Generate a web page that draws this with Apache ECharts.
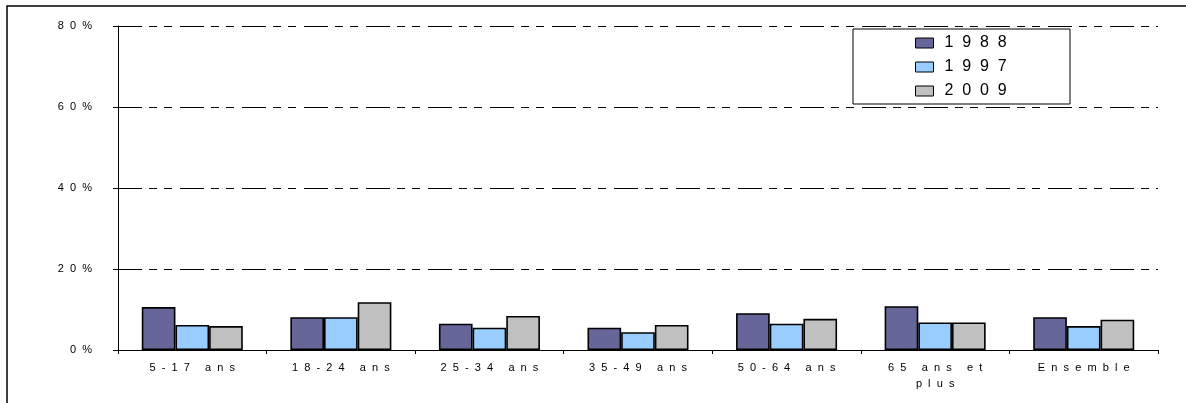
<!DOCTYPE html>
<html>
<head>
<meta charset="utf-8">
<script src="https://cdn.jsdelivr.net/npm/echarts@6/dist/echarts.min.js"></script>
<style>
  html, body { margin: 0; padding: 0; background: #fff; }
  #chart { width: 1186px; height: 403px; }
</style>
</head>
<body>
<div id="chart"></div>
<script>
// données
const categories = ["5-17 ans", "18-24 ans", "25-34 ans", "35-49 ans", "50-64 ans", "65 ans et plus", "Ensemble"];
const years = ["1988", "1997", "2009"];
const values1988 = [10.6, 8.1, 6.5, 5.5, 9.1, 10.8, 8.1];
const values1997 = [6.2, 8.1, 5.5, 4.4, 6.5, 6.8, 5.9];
const values2009 = [5.9, 11.8, 8.4, 6.2, 7.7, 6.8, 7.5];
const yTicks = [0, 20, 40, 60, 80];

const colors = ["#666699", "#99ccff", "#c0c0c0"];

// texte espacé comme dans l'export Excel
const spaced = (s) => s.split("").join("  ");

const chart = echarts.init(document.getElementById("chart"));

const mkSeries = (name, data, color) => ({
  name: name,
  type: "bar",
  data: data,
  barGap: "0%",
  barCategoryGap: "32%",
  itemStyle: {
    color: color,
    borderColor: "#000",
    borderWidth: 1.6,
  },
});

const option = {
  animation: false,
  textStyle: { fontFamily: "Liberation Sans, Arial, sans-serif" },
  grid: {
    left: 118,
    right: 28,
    top: 26,
    bottom: 53,
  },
  legend: {
    orient: "vertical",
    left: 915,
    top: 35,
    icon: "rect",
    itemWidth: 18,
    itemHeight: 10,
    itemGap: 8,
    padding: 0,
    data: years,
    formatter: (n) => spaced(n),
    itemStyle: { borderColor: "#000", borderWidth: 1 },
    textStyle: { fontSize: 16, color: "#000", padding: [0, 0, 0, 6] },
  },
  xAxis: {
    type: "category",
    data: categories,
    axisLine: { lineStyle: { color: "#000", width: 1 } },
    axisTick: { show: true, length: 4, lineStyle: { color: "#000" } },
    axisLabel: {
      interval: 0,
      margin: 10,
      fontSize: 11,
      color: "#000",
      lineHeight: 16,
      formatter: (v) =>
        v === "65 ans et plus"
          ? spaced("65 ans et") + "\n" + spaced("plus")
          : spaced(v),
    },
  },
  yAxis: {
    type: "value",
    min: yTicks[0],
    max: yTicks[yTicks.length - 1],
    interval: 20,
    axisLine: { show: true, lineStyle: { color: "#000", width: 1 } },
    axisTick: { show: true, length: 5, lineStyle: { color: "#000" } },
    axisLabel: {
      fontSize: 11,
      color: "#000",
      margin: 26,
      formatter: (v) => spaced(v + "%"),
    },
    splitLine: {
      show: true,
      lineStyle: {
        color: "#000",
        width: 1,
        type: [24, 7, 8, 7, 8, 8],
      },
    },
  },
  graphic: [
    {
      type: "rect",
      shape: { x: 7, y: 6, width: 1400, height: 600 },
      style: { fill: "none", stroke: "#000", lineWidth: 1.5 },
      silent: true,
      z: -1,
    },
    {
      type: "rect",
      shape: { x: 853, y: 29, width: 217, height: 75 },
      style: { fill: "#fff", stroke: "#000", lineWidth: 1 },
      silent: true,
      z: 0,
    },
  ],
  series: [
    mkSeries(years[0], values1988, colors[0]),
    mkSeries(years[1], values1997, colors[1]),
    mkSeries(years[2], values2009, colors[2]),
  ],
};

chart.setOption(option);
</script>
</body>
</html>
